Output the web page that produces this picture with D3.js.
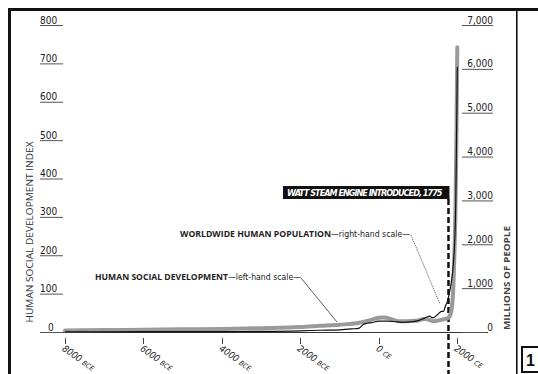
<!DOCTYPE html>
<html><head><meta charset="utf-8">
<script src="https://cdn.jsdelivr.net/npm/d3@7"></script>
<style>
html,body{margin:0;padding:0;background:#fff;}
svg{display:block;}
.cond{font-family:"Liberation Sans Narrow","DejaVu Sans Condensed","Roboto Condensed",sans-serif;font-stretch:condensed;}
.sans{font-family:"Open Sans","DejaVu Sans",sans-serif;}
</style>
</head><body>
<svg id="c" width="538" height="374"></svg>
<script>
// ---- data ----
const leftTicks = [0,100,200,300,400,500,600,700,800];
const rightTicks = [0,1000,2000,3000,4000,5000,6000,7000];
const xTickYears = [-8000,-6000,-4000,-2000,0,2000];
const xTickNums = ["8000","6000","4000","2000","0","2000"];
const xTickEras = ["BCE","BCE","BCE","BCE","CE","CE"];

const sdYears  = [-8000,-7000,-6000,-5000,-4000,-3000,-2000,-1500,-1000,-500,-250,0,100,200,300,400,500,700,850,1000,1100,1200,1300,1400,1500,1600,1700,1750,1800,1850,1900,1925,1950,1975,2000];
const sdValues = [4,5,6,7,8,10,13,16,19,24,30,37,38,37,34,31,28,28,29,30,33,34,31,28,30,32,34,36,40,55,120,200,300,480,742];

const popYears  = [-8000,-6000,-4000,-3000,-2000,-1500,-1000,-700,-500,-400,-300,-200,0,200,400,600,800,1000,1100,1200,1300,1350,1400,1500,1600,1650,1700,1750,1800,1850,1900,1925,1950,1960,1970,1980,1990,2000];
const popValues = [5,7,10,14,27,40,50,70,90,170,200,210,250,250,240,220,230,260,290,330,360,330,330,400,470,470,600,700,900,1150,1550,1900,2500,2950,3600,4400,5200,6050];

const eventYear = 1775;
const eventLabel = "WATT STEAM ENGINE INTRODUCED, 1775";

// ---- scales ----
const svg = d3.select("#c");
const x = d3.scaleLinear().domain([-8000,2000]).range([65,457.3]);
const yL = d3.scaleLinear().domain([0,800]).range([332,25]);
const yR = d3.scaleLinear().domain([0,7000]).range([332,25]);

// frame
svg.append("line").attr("x1",8).attr("x2",538).attr("y1",9.5).attr("y2",9.5).attr("stroke","#111").attr("stroke-width",3);
svg.append("line").attr("x1",9.5).attr("x2",9.5).attr("y1",8).attr("y2",374).attr("stroke","#111").attr("stroke-width",3);
svg.append("line").attr("x1",516.8).attr("x2",516.8).attr("y1",10).attr("y2",374).attr("stroke","#111").attr("stroke-width",1.6);
svg.append("rect").attr("x",522).attr("y",347).attr("width",20).attr("height",25).attr("fill","none").attr("stroke","#111").attr("stroke-width",2);
svg.append("text").attr("x",530.5).attr("y",366).attr("text-anchor","middle").attr("font-family","Liberation Sans, Arial, sans-serif").attr("font-weight","bold").attr("font-size",16).attr("fill","#111").text("1");

// baseline
svg.append("line").attr("x1",40).attr("x2",488).attr("y1",yL(0)+0.5).attr("y2",yL(0)+0.5).attr("stroke","#333").attr("stroke-width",1);

// left axis ticks (underlined labels)
const lg = svg.append("g").attr("class","cond");
leftTicks.forEach(v=>{
  const yy = yL(v);
  lg.append("line").attr("x1",40).attr("x2",63).attr("y1",yy+0.5).attr("y2",yy+0.5).attr("stroke","#555").attr("stroke-width",1);
  lg.append("text").attr("x",v===0?48:40).attr("y",yy-1.5).attr("font-size",10).attr("fill","#1a1a1a").text(d3.format("d")(v));
});
// right axis
const rg = svg.append("g").attr("class","cond");
rightTicks.forEach(v=>{
  const yy = yR(v);
  rg.append("line").attr("x1",462).attr("x2",v===0?486:493).attr("y1",yy+0.5).attr("y2",yy+0.5).attr("stroke","#555").attr("stroke-width",1);
  rg.append("text").attr("x",493).attr("y",yy-1.5).attr("text-anchor","end").attr("font-size",10).attr("fill","#1a1a1a").text(d3.format(",")(v));
});

// x ticks
const xg = svg.append("g").attr("class","cond");
xTickYears.forEach((yr,i)=>{
  const xx = Math.round(x(yr))+0.5;
  xg.append("line").attr("x1",xx).attr("x2",xx).attr("y1",338).attr("y2",344).attr("stroke","#444").attr("stroke-width",1);
  const t = xg.append("text").attr("transform",`translate(${xx-4},${350}) rotate(35)`).attr("font-size",9.5).attr("font-style","italic").attr("fill","#222");
  t.append("tspan").text(xTickNums[i]+" ");
  t.append("tspan").attr("font-size",7).text(xTickEras[i]);
});

// axis titles
svg.append("text").attr("class","sans").attr("transform","translate(33,232) rotate(-90)").attr("text-anchor","middle")
  .attr("font-size",9.5).attr("fill","#333").attr("textLength",181).attr("lengthAdjust","spacingAndGlyphs").text("HUMAN SOCIAL DEVELOPMENT INDEX");
svg.append("text").attr("class","sans").attr("transform","translate(510,278) rotate(-90)").attr("text-anchor","middle")
  .attr("font-size",9).attr("font-weight","bold").attr("fill","#444").attr("textLength",104).attr("lengthAdjust","spacingAndGlyphs").text("MILLIONS OF PEOPLE");

// event marker
const ex = x(eventYear);
svg.append("line").attr("x1",ex).attr("x2",ex).attr("y1",199).attr("y2",374).attr("stroke","#111").attr("stroke-width",2.5).attr("stroke-dasharray","6,3");
svg.append("rect").attr("x",283).attr("y",186).attr("width",ex-283+1).attr("height",13).attr("fill","#111");
svg.append("text").attr("class","cond").attr("x",287).attr("y",196).attr("font-size",9).attr("font-weight","bold").attr("font-style","italic")
  .attr("fill","#fff").attr("textLength",ex-293).attr("lengthAdjust","spacing").text(eventLabel);

// lines
const sdLine = d3.line().x((d,i)=>x(sdYears[i])).y(d=>yL(d)).curve(d3.curveMonotoneX);
const popLine = d3.line().x((d,i)=>x(popYears[i])).y(d=>yR(d)).curve(d3.curveMonotoneX);
svg.append("path").datum(sdValues).attr("d",sdLine).attr("fill","none").attr("stroke","#9a9a9a").attr("stroke-width",4).attr("stroke-linejoin","round").attr("stroke-linecap","round");
svg.append("path").datum(popValues).attr("d",popLine).attr("fill","none").attr("stroke","#111").attr("stroke-width",1.2);

// annotations
const a1 = svg.append("text").attr("y",237).attr("fill","#222");
a1.append("tspan").attr("x",180).attr("class","sans").attr("font-size",8.5).attr("font-weight","bold").attr("textLength",151).attr("lengthAdjust","spacingAndGlyphs").text("WORLDWIDE HUMAN POPULATION");
a1.append("tspan").attr("class","cond").attr("font-size",8.5).attr("textLength",79).attr("lengthAdjust","spacingAndGlyphs").text("—right-hand scale—");
svg.append("line").attr("x1",411).attr("y1",235).attr("x2",440).attr("y2",304).attr("stroke","#333").attr("stroke-width",0.8).attr("stroke-dasharray","1.2,1");

const a2 = svg.append("text").attr("y",280).attr("fill","#222");
a2.append("tspan").attr("x",95).attr("class","sans").attr("font-size",8.5).attr("font-weight","bold").attr("textLength",133).attr("lengthAdjust","spacingAndGlyphs").text("HUMAN SOCIAL DEVELOPMENT");
a2.append("tspan").attr("class","cond").attr("font-size",8.5).attr("textLength",73).attr("lengthAdjust","spacingAndGlyphs").text("—left-hand scale—");
svg.append("line").attr("x1",301).attr("y1",278).attr("x2",337).attr("y2",322).attr("stroke","#333").attr("stroke-width",0.8);
</script>
</body></html>
